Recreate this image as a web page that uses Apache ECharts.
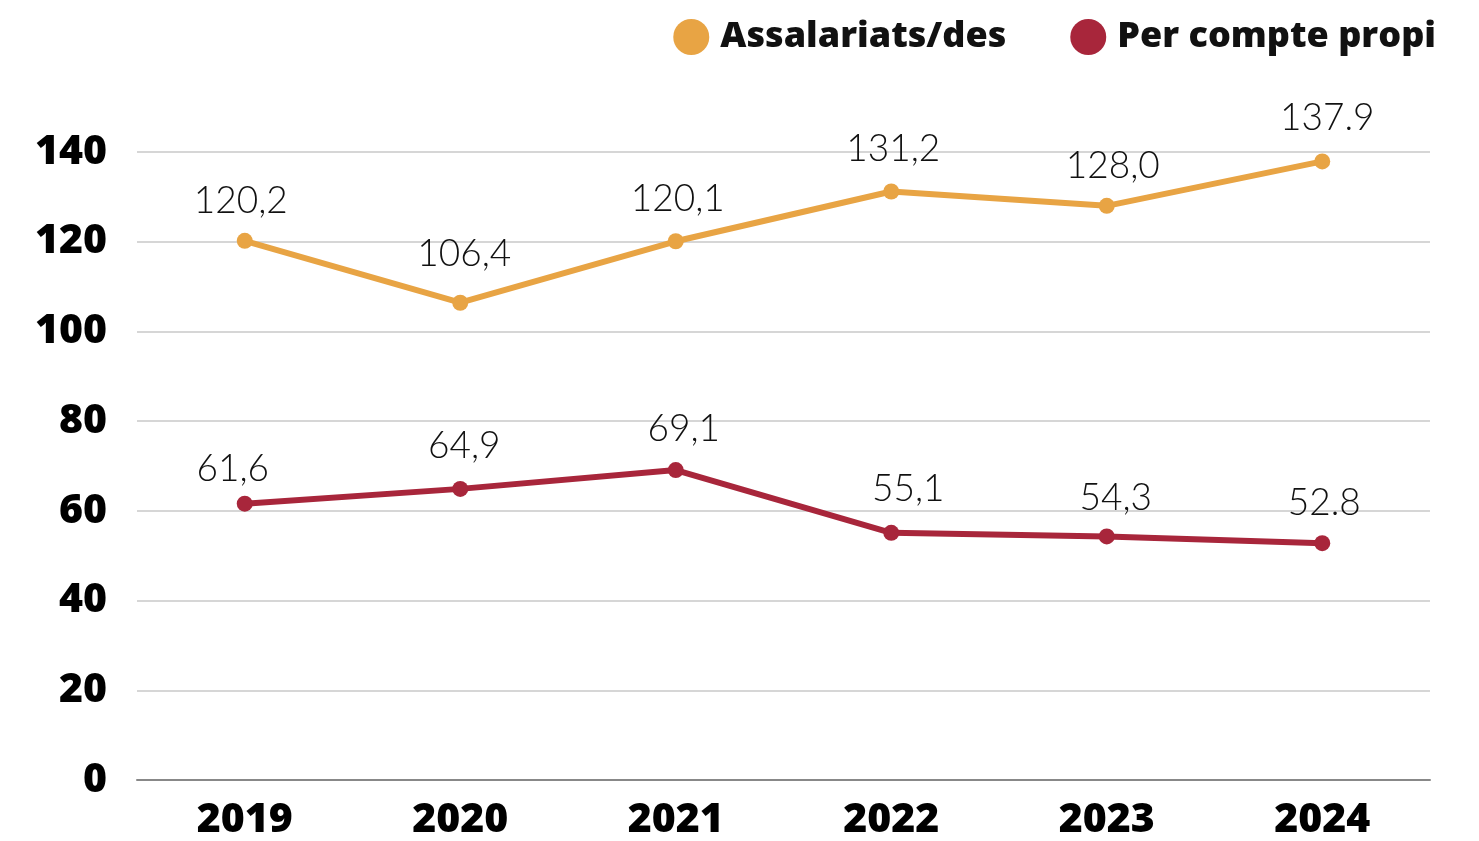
<!DOCTYPE html>
<html><head><meta charset="utf-8">
<script src="https://cdn.jsdelivr.net/npm/echarts@6/dist/echarts.min.js"></script>
<style>html,body{margin:0;padding:0;background:#fff}#c{width:1479px;height:841px}</style>
</head><body><div id="c"></div>
<script>
const years = ['2019','2020','2021','2022','2023','2024'];
const assalariats = [120.2, 106.4, 120.1, 131.2, 128.0, 137.9];
const comptePropi = [61.6, 64.9, 69.1, 55.1, 54.3, 52.8];
const assalariatsLabels = ['120,2','106,4','120,1','131,2','128,0','137.9'];
const compteLabels = ['61,6','64,9','69,1','55,1','54,3','52.8'];
const yTicks = [0,20,40,60,80,100,120,140];
const seriesNames = ['Assalariats/des','Per compte propi'];

// label offsets (style only)
const offA = [[-4,-40],[4,-49],[2,-42],[2,-42],[6,-40],[5,-43]];
const offC = [[-12,-35],[4,-43],[8,-41],[17,-44],[9,-38],[2,-40]];

const labelFont = {fontFamily:'Lato', fontWeight:300, fontSize:37, color:'#111'};
function mk(vals, labels, offs){
  return vals.map((v,i)=>({value:v, label:{formatter:labels[i], offset:offs[i]}}));
}
const chart = echarts.init(document.getElementById('c'));
chart.setOption({
  animation:false,
  backgroundColor:'#fff',
  grid:{left:137,right:49,top:152,bottom:56,containLabel:false},
  legend:{
    top:14,right:38,itemWidth:36,itemHeight:36,itemGap:64,icon:'circle',
    textStyle:{fontFamily:'Open Sans',fontWeight:800,fontSize:36,color:'#111',padding:[0,0,0,6]},
    data:seriesNames
  },
  xAxis:{type:'category',data:years,boundaryGap:true,
    axisLine:{lineStyle:{color:'#888',width:2}},axisTick:{show:false},
    axisLabel:{margin:20,fontFamily:'Open Sans',fontWeight:800,fontSize:41,color:'#000'}},
  yAxis:{type:'value',min:0,max:140,interval:20,
    axisLine:{show:false},axisTick:{show:false},
    splitLine:{lineStyle:{color:'#c8c8c8',width:1.5}},
    axisLabel:{margin:30,fontFamily:'Open Sans',fontWeight:800,fontSize:41,color:'#000',
      formatter:v=>yTicks.includes(v)?String(v):''}},
  series:[
    {name:seriesNames[0],type:'line',data:mk(assalariats,assalariatsLabels,offA),
     color:'#E8A444',lineStyle:{width:6,color:'#E8A444'},symbol:'circle',symbolSize:16,
     itemStyle:{color:'#E8A444'},
     label:Object.assign({show:true,position:'inside',align:'center',verticalAlign:'middle'},labelFont)},
    {name:seriesNames[1],type:'line',data:mk(comptePropi,compteLabels,offC),
     color:'#A8263B',lineStyle:{width:6,color:'#A8263B'},symbol:'circle',symbolSize:16,
     itemStyle:{color:'#A8263B'},
     label:Object.assign({show:true,position:'inside',align:'center',verticalAlign:'middle'},labelFont)}
  ]
});
</script></body></html>
